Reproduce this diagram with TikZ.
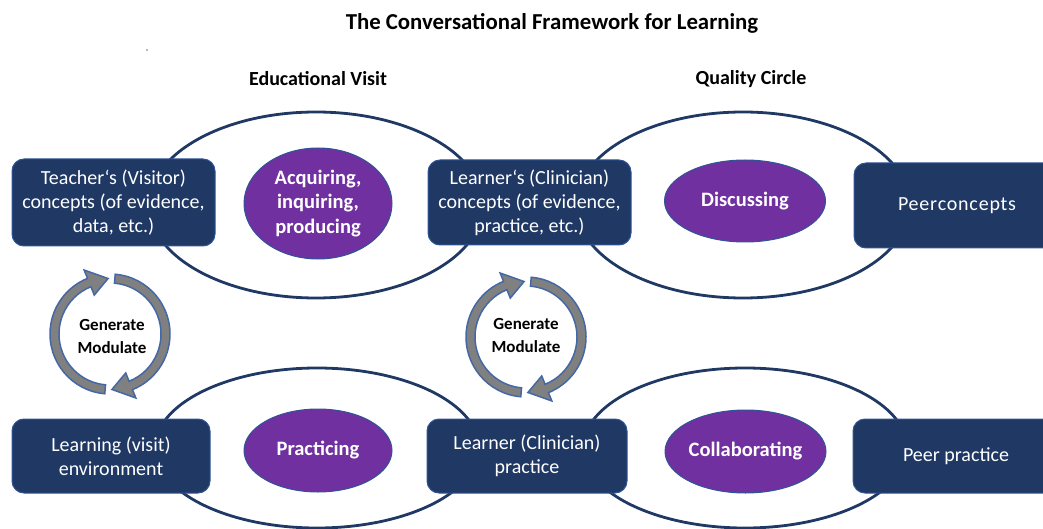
\documentclass[tikz,border=0pt]{standalone}
\usepackage{fontspec}
\setmainfont{Carlito}
\usetikzlibrary{shapes.geometric}

\definecolor{navy}{RGB}{32,56,100}
\definecolor{boxline}{RGB}{47,85,151}
\definecolor{actpurple}{RGB}{112,48,160}
\definecolor{loopgray}{RGB}{128,128,128}
\definecolor{loopline}{RGB}{68,104,164}

\tikzset{
  conceptbox/.style={rectangle,rounded corners=12pt,draw=boxline,line width=1pt,fill=navy,
    text=white,align=center,inner sep=0pt,font=\fontsize{20}{24}\selectfont},
  ring/.style={ellipse,draw=navy,line width=2.8pt,inner sep=0pt},
  activity/.style={ellipse,draw=boxline,line width=1pt,fill=actpurple,text=white,
    align=center,inner sep=0pt,font=\bfseries\fontsize{20.5}{24.5}\selectfont},
  heading/.style={font=\bfseries\fontsize{20}{24}\selectfont},
  cyclelabel/.style={align=center,font=\bfseries\fontsize{17}{23}\selectfont},
  cycarrow/.style={fill=loopgray,draw=loopline,line width=1.5pt},
  cyclearrow/.pic={
    \filldraw[cycarrow] (95:60) arc[start angle=95,end angle=248,radius=60]
      -- (248:69) -- (268:55.5) -- (248:42) -- (248:51)
      arc[start angle=248,end angle=95,radius=51] -- cycle;
  }
}

\begin{document}
\begin{tikzpicture}[x=1pt,y=-1pt]

%FRAME
\useasboundingbox (0,0) rectangle (1043,529);
\clip (0,0) rectangle (1043,529);
\fill[black!55] (147,50) circle[radius=0.8];
%FRAME

\node[font=\bfseries\fontsize{22.8}{27}\selectfont](title) at (552,23) {The Conversational Framework for Learning};
\node[heading](visit) at (318,79) {Educational Visit};
\node[heading](quality) at (751,79) {Quality Circle};

\node[ring,minimum width=334pt,minimum height=186pt](ring1) at (316,205) {};
\node[ring,minimum width=334pt,minimum height=186pt](ring2) at (743,205) {};
\node[ring,minimum width=324pt,minimum height=160pt](ring3) at (317,448) {};
\node[ring,minimum width=324pt,minimum height=160pt](ring4) at (745,448) {};

\node[conceptbox,minimum width=203pt,minimum height=87pt](box1) at (113.5,202.5) {Teacher‘s (Visitor)\\concepts (of evidence,\\data, etc.)};
\node[conceptbox,minimum width=203pt,minimum height=85pt](box2) at (529.5,202.5) {Learner‘s (Clinician)\\concepts (of evidence,\\practice, etc.)};
\node[conceptbox,minimum width=206pt,minimum height=85pt](box3) at (957,205.5) {\addfontfeature{LetterSpace=4}Peerconcepts};
\node[conceptbox,minimum width=198pt,minimum height=74pt](box4) at (111,456) {Learning (visit)\\environment};
\node[conceptbox,minimum width=200pt,minimum height=74pt](box5) at (527,456) {Learner (Clinician)\\practice};
\node[conceptbox,minimum width=206pt,minimum height=74pt](box6) at (956,456) {Peer practice};

\node[activity,minimum width=148pt,minimum height=111pt](act1) at (318,203.5) {Acquiring,\\inquiring,\\producing};
\node[activity,minimum width=161pt,minimum height=82pt](act2) at (745,201) {Discussing};
\node[activity,minimum width=148pt,minimum height=83pt](act3) at (318,450.5) {Practicing};
\node[activity,minimum width=161pt,minimum height=83pt](act4) at (745.5,451.5) {Collaborating};

%LOOPS
\coordinate (loop1) at (110,334);
\coordinate (loop2) at (526,337);

\pic at (loop1) {cyclearrow};
\pic[rotate=180] at (loop1) {cyclearrow};
\pic at (loop2) {cyclearrow};
\pic[rotate=180] at (loop2) {cyclearrow};

\node[cyclelabel](gm1) at (112,336) {Generate\\Modulate};
\node[cyclelabel](gm2) at (526,335) {Generate\\Modulate};

\end{tikzpicture}
\end{document}
